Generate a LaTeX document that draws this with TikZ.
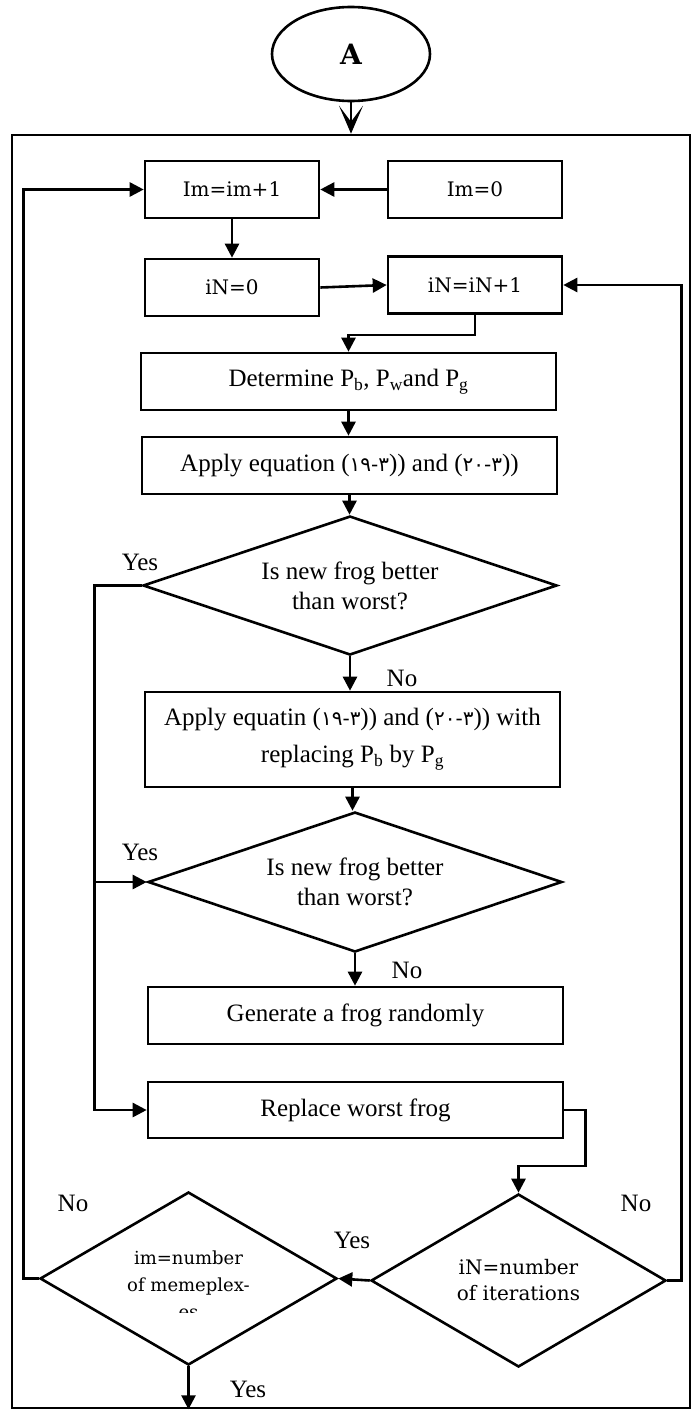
\documentclass[tikz,border=0pt]{standalone}
\usepackage{fontspec}
\setmainfont{Liberation Serif}
\newfontfamily\eqfont{DejaVu Serif}
\newfontfamily\digfont{DejaVu Sans}
\usetikzlibrary{shapes.geometric,arrows.meta,calc}

% Arabic-Indic equation numbers: each piece boxed so it keeps its place
\newcommand\dg[1]{\mbox{\digfont\fontsize{20}{22}\selectfont #1}}
\newcommand\eqnum[2]{\dg{#1}\dg{-}\dg{#2}}

\tikzset{
  stroke/.style={line width=2.6pt},
  box/.style={draw, stroke, rectangle, minimum width=415pt, minimum height=57pt,
    inner sep=0pt, align=center, font=\fontsize{25}{37}\selectfont},
  smallbox/.style={box, minimum width=174pt, font=\eqfont\fontsize{20}{24}\selectfont},
  decision/.style={draw, stroke, diamond, inner sep=0pt, align=center},
  lbl/.style={inner sep=0pt, font=\fontsize{25}{30}\selectfont},
  arr/.style={stroke, -{Triangle[length=14pt,width=14pt]}},
}

\begin{document}
\begin{tikzpicture}[x=1pt, y=-1pt]
  \useasboundingbox (0,0) rectangle (691,1410);
  \fill[white] (0,0) rectangle (691,1410);

  % entry connector and enclosing frame
  \node[draw, stroke, ellipse, minimum width=158pt, minimum height=94pt, inner sep=0pt,
        font=\eqfont\bfseries\fontsize{28}{30}\selectfont] (ell) at (351,54) {A};
  \node[draw, stroke, rectangle, minimum width=678pt, minimum height=1273pt, inner sep=0pt]
        (frame) at (351,771.5) {};

  % counters
  \node[smallbox] (im1) at (232,189.5) {Im=im+1};
  \node[smallbox] (im0) at (475,189.5) {Im=0};
  \node[smallbox] (in0) at (232,287.5) {iN=0};
  \node[smallbox] (in1) at (475,285)   {iN=iN+1};

  % main steps
  \node[box] (det) at (348.5,381.5) {Determine P\textsubscript{b}, P\textsubscript{w}and P\textsubscript{g}};
  \node[box] (app) at (349.5,465.5) {Apply equation (\eqnum{١٩}{٣})) and (\eqnum{٢٠}{٣}))};
  \node[decision, minimum width=414pt, minimum height=139pt, aspect=3,
        font=\fontsize{25}{30}\selectfont] (d1) at (350,585.5) {Is new frog better\\than worst?};
  \node[box, minimum height=95pt] (ap2) at (352.5,739.5)
        {Apply equatin (\eqnum{١٩}{٣})) and (\eqnum{٢٠}{٣})) with\\replacing P\textsubscript{b} by P\textsubscript{g}};
  \node[decision, minimum width=414pt, minimum height=140pt, aspect=3,
        font=\fontsize{25}{30}\selectfont] (d2) at (355,882) {Is new frog better\\than worst?};
  \node[box] (gen) at (355.5,1015.5) {Generate a frog randomly};
  \node[box, minimum height=56pt] (rep) at (355.5,1110) {Replace worst frog};

  % loop tests
  \node[decision, minimum width=295pt, minimum height=173pt, aspect=1.7,
        font=\eqfont\fontsize{20}{26}\selectfont] (d3) at (518.5,1280.5) {iN=number\\of iterations};
  \node[decision, minimum width=297pt, minimum height=173pt] (d4) at (188.5,1278.5) {};
  \begin{scope}
    \clip (100,1240) rectangle (280,1312);
    \node[inner sep=0pt, anchor=north, align=center,
          font=\eqfont\fontsize{18}{27}\selectfont] (d4txt) at (188.5,1251)
          {im=number\\of memeplex-\\es};
  \end{scope}

  % connectors
  \draw[stroke, -{Stealth[length=28pt,width=24pt,inset=16pt]}] (ell.south) -- (frame.north);
  \draw[arr] (im0.west) -- (im1.east);
  \draw[arr] (im1.south) -- (in0.north);
  \draw[arr] (in0.east) -- (in1.west);
  \draw[arr] (in1.south) -- ++(0,20) -| (det.north);
  \draw[arr] (det.south) -- (det.south |- app.north);
  \draw[arr] (app.south) -- (app.south |- d1.north);
  \draw[arr] (d1.south) -- (d1.south |- ap2.north);
  \draw[arr] (ap2.south) -- (ap2.south |- d2.north);
  \draw[arr] (d2.south) -- (d2.south |- gen.north);
  \draw[arr] (d1.west) -- ++(-47,0) |- (rep.west);
  \draw[arr] (d1.west) ++(-47,0) |- (d2.west);
  \draw[arr] (rep.east) -| ($(rep.east)+(21,56)$) -| (d3.north);
  \draw[arr] (d3.west) -- (d4.east);
  \draw[arr] (d3.east) -- ++(14,0) |- (in1.east);
  \draw[arr] (d4.west) -- ++(-15,0) |- (im1.west);
  \draw[arr] (d4.south) -- (d4.south |- frame.south);

  % branch labels
  \node[lbl] (y1) at (140,562) {Yes};
  \node[lbl] (n1) at (402,678) {No};
  \node[lbl] (y2) at (140,852) {Yes};
  \node[lbl] (n2) at (407,970) {No};
  \node[lbl] (n3) at (73,1203) {No};
  \node[lbl] (n4) at (636,1203) {No};
  \node[lbl] (y3) at (352,1240) {Yes};
  \node[lbl] (y4) at (248,1389) {Yes};
\end{tikzpicture}
\end{document}
